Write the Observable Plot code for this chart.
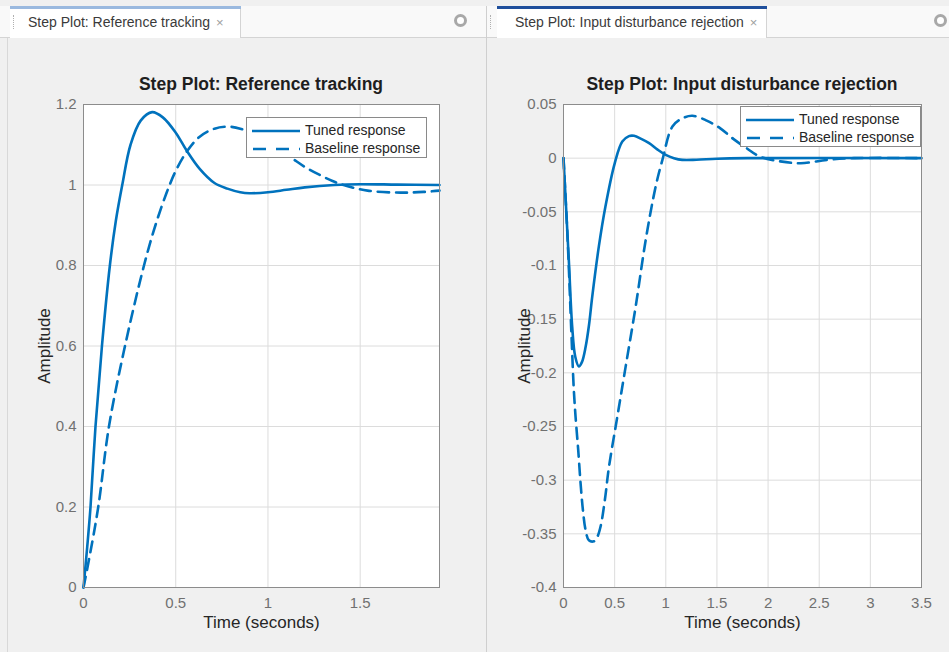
<!DOCTYPE html>
<html>
<head>
<meta charset="utf-8">
<script src="https://cdn.jsdelivr.net/npm/d3@7"></script>
<script src="https://cdn.jsdelivr.net/npm/@observablehq/plot@0.6"></script>
<style>
  html, body { margin: 0; padding: 0; }
  body { width: 949px; height: 652px; background: #f0f0f0; position: relative; overflow: hidden;
         font-family: "Liberation Sans", Arial, sans-serif; }
  .abs { position: absolute; }
  .tabbar { left: 0; top: 6px; height: 31px; background: #f9f9f9; border-bottom: 1px solid #d4d4d4; }
  .tab { top: 6px; height: 32px; background: #ffffff; border-right: 1px solid #d4d4d4; box-sizing: border-box;
         font-size: 14px; color: #3a3a3a; line-height: 32px; padding-left: 18px; white-space: nowrap; }
  .tab .x { color: #a0a0a0; font-size: 13px; margin-left: 6px; }
  .grip { width: 2px; height: 14px; border-left: 1px dotted #b0b0b0; }
  .gear { width: 7px; height: 7px; border-radius: 50%; background: #ffffff; border: 3px solid #a8a8a8; }
  .title { font-weight: bold; font-size: 17.5px; color: #1e1e1e; text-align: center; white-space: nowrap; }
  .legend { background: #fff; border: 1px solid #8a8a8a; box-sizing: border-box; font-size: 14px; color: #262626; }
  .legend .row { position: absolute; left: 4px; height: 18px; line-height: 18px; white-space: nowrap; }
  .legend svg { vertical-align: middle; }
</style>
</head>
<body>
<script>
// ---------- Data ----------
// Reference tracking (left)
const refTunedT = [0, 0.02, 0.038, 0.065, 0.10, 0.143, 0.175, 0.21, 0.255, 0.31, 0.372, 0.43, 0.5, 0.56, 0.63, 0.71, 0.78, 0.85, 0.9, 1.0, 1.1, 1.2, 1.36, 1.5, 1.7, 1.93];
const refTunedY = [0, 0.1, 0.2, 0.4, 0.6, 0.8, 0.91, 1.0, 1.1, 1.16, 1.181, 1.168, 1.13, 1.085, 1.04, 1.005, 0.991, 0.982, 0.9795, 0.982, 0.988, 0.994, 1.0, 1.002, 1.001, 1.0];
const refBaseT = [0, 0.03, 0.08, 0.138, 0.225, 0.328, 0.39, 0.45, 0.5, 0.563, 0.63, 0.71, 0.78, 0.85, 0.95, 1.05, 1.125, 1.2, 1.285, 1.35, 1.41, 1.54, 1.72, 1.85, 1.93];
const refBaseY = [0, 0.07, 0.2, 0.4, 0.6, 0.8, 0.9, 0.98, 1.035, 1.085, 1.12, 1.14, 1.145, 1.14, 1.12, 1.09, 1.068, 1.045, 1.024, 1.01, 1.0, 0.986, 0.981, 0.983, 0.986];

// Input disturbance rejection (right)
const disTunedT = [0, 0.052, 0.085, 0.115, 0.15, 0.18, 0.216, 0.25, 0.281, 0.346, 0.41, 0.5, 0.575, 0.64, 0.69, 0.76, 0.837, 0.92, 1.0, 1.08, 1.16, 1.3, 1.5, 1.8, 3.5];
const disTunedY = [0, -0.095, -0.157, -0.185, -0.194, -0.19, -0.176, -0.155, -0.129, -0.082, -0.045, -0.005, 0.0155, 0.0205, 0.0208, 0.018, 0.014, 0.008, 0.003, 0.0, -0.0016, -0.0015, -0.0005, 0.0, 0.0];
const disBaseT = [0, 0.04, 0.078, 0.101, 0.118, 0.144, 0.167, 0.19, 0.216, 0.248, 0.297, 0.33, 0.363, 0.405, 0.444, 0.526, 0.608, 0.706, 0.804, 0.902, 0.967, 1.065, 1.16, 1.26, 1.4, 1.53, 1.66, 1.79, 1.92, 2.12, 2.32, 2.58, 2.84, 3.5];
const disBaseY = [0, -0.075, -0.165, -0.216, -0.241, -0.272, -0.303, -0.328, -0.3465, -0.356, -0.357, -0.353, -0.343, -0.318, -0.288, -0.241, -0.194, -0.138, -0.076, -0.026, -0.0016, 0.0295, 0.037, 0.0395, 0.035, 0.028, 0.018, 0.0093, 0.0015, -0.003, -0.0047, -0.0016, 0.0, 0.0];

// Ticks and labels
const refXTicks = [0, 0.5, 1, 1.5];
const refYTicks = [0, 0.2, 0.4, 0.6, 0.8, 1, 1.2];
const disXTicks = [0, 0.5, 1, 1.5, 2, 2.5, 3, 3.5];
const disYTicks = [0.05, 0, -0.05, -0.1, -0.15, -0.2, -0.25, -0.3, -0.35, -0.4];
const refXDomain = [0, 1.93];
const refYDomain = [0, 1.2];
const disXDomain = [0, 3.5];
const disYDomain = [-0.4, 0.05];
const seriesNames = ["Tuned response", "Baseline response"];
const tabTitles = ["Step Plot: Reference tracking", "Step Plot: Input disturbance rejection"];
const xLabel = "Time (seconds)";
const yLabel = "Amplitude";

// ---------- Build ----------
const lineColor = "#0072BD";
const dash = "11,7";
const zip = (t, y) => t.map((v, i) => ({t: v, y: y[i]}));

function makePlot(cfg) {
  return Plot.plot({
    width: 480, height: 592,
    marginLeft: 83, marginRight: cfg.marginRight, marginTop: 44, marginBottom: 65,
    style: {background: "transparent", fontFamily: "'Liberation Sans', Arial, sans-serif", overflow: "visible"},
    x: {domain: cfg.xDomain},
    y: {domain: cfg.yDomain},
    marks: [
      Plot.frame({fill: "#ffffff"}),
      Plot.gridX(cfg.xTicks, {stroke: "#dcdcdc", strokeOpacity: 1}),
      Plot.gridY(cfg.yTicks, {stroke: "#dcdcdc", strokeOpacity: 1}),
      Plot.line(zip(cfg.tunedT, cfg.tunedY), {x: "t", y: "y", stroke: lineColor, strokeWidth: 2.6, curve: "catmull-rom"}),
      Plot.line(zip(cfg.baseT, cfg.baseY), {x: "t", y: "y", stroke: lineColor, strokeWidth: 2.6, strokeDasharray: dash, curve: "catmull-rom"}),
      Plot.frame({stroke: "#8c8c8c", strokeWidth: 1}),
      Plot.axisX({ticks: cfg.xTicks, tickFormat: d => String(d), tickSize: 0, tickPadding: 10, fontSize: 15, color: "#707070", label: null}),
      Plot.axisY({ticks: cfg.yTicks, tickFormat: d => String(d), tickSize: 0, tickPadding: 7, fontSize: 15, color: "#707070", label: null}),
      Plot.axisX({ticks: [], label: xLabel, labelAnchor: "center", labelArrow: "none", labelOffset: 40, fontSize: 17, fill: "#262626", tickSize: 0}),
      Plot.axisY({ticks: [], label: yLabel, labelAnchor: "center", labelArrow: "none", labelOffset: 46, fontSize: 17, fill: "#262626", tickSize: 0})
    ]
  });
}

function place(el, left, top) {
  el.style.position = "absolute";
  el.style.left = left + "px";
  el.style.top = top + "px";
  document.body.appendChild(el);
}

function div(cls, left, top, width, height, html) {
  const d = document.createElement("div");
  d.className = "abs " + cls;
  d.style.left = left + "px"; d.style.top = top + "px";
  if (width != null) d.style.width = width + "px";
  if (height != null) d.style.height = height + "px";
  if (html != null) d.innerHTML = html;
  document.body.appendChild(d);
  return d;
}

// Panels / tabs
div("tabbar", 0, 6, 949, null);
div("", 7, 38, 1, 614).style.background = "#d8d8d8";
div("", 486, 6, 1, 646).style.background = "#cfcfcf";
div("tab", 10, 6, 231, null, tabTitles[0] + '<span class="x">×</span>');
div("", 10, 6, 231, 3).style.background = "#9ab9df";
div("grip", 13, 15, null, null);
div("gear", 454, 14, null, null);
div("tab", 497, 6, 270, null, tabTitles[1] + '<span class="x">×</span>');
div("", 497, 6, 270, 3).style.background = "#1f4f9c";
div("grip", 490, 15, null, null);
div("gear", 934, 14, null, null);

// Titles
div("title", 83, 74, 356, null, tabTitles[0]);
div("title", 543, 74, 398, null, tabTitles[1]);

// Plots
place(makePlot({xDomain: refXDomain, yDomain: refYDomain, xTicks: refXTicks, yTicks: refYTicks,
  tunedT: refTunedT, tunedY: refTunedY, baseT: refBaseT, baseY: refBaseY, marginRight: 41}), 0, 60);
place(makePlot({xDomain: disXDomain, yDomain: disYDomain, xTicks: disXTicks, yTicks: disYTicks,
  tunedT: disTunedT, tunedY: disTunedY, baseT: disBaseT, baseY: disBaseY, marginRight: 39}), 480, 60);

// Legends
function legend(left, top, width) {
  const sw = (d) => `<svg width="50" height="6"><line x1="1" x2="49" y1="3" y2="3" stroke="${lineColor}" stroke-width="2.6" ${d ? `stroke-dasharray="13,10" stroke-dashoffset="-1"` : ""}/></svg>`;
  const html = seriesNames.map((n, i) =>
    `<div class="row" style="top:${i === 0 ? 3 : 21}px">${sw(i === 1)}<span style="margin-left:4px">${n}</span></div>`).join("");
  div("legend", left, top, width, 41, html);
}
legend(246, 117, 181);
legend(740, 106, 181);
</script>
</body>
</html>
